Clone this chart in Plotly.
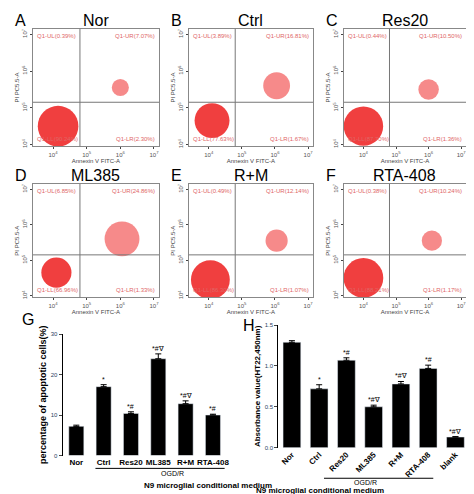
import plotly.graph_objects as go

W, H = 474, 494

# flow cytometry panels
flow_names = ["Nor", "Ctrl", "Res20", "ML385", "R+M", "RTA-408"]
flow_letters = ["A", "B", "C", "D", "E", "F"]
q_ul = [0.39, 3.89, 0.44, 6.85, 0.49, 0.38]
q_ur = [7.07, 16.81, 10.50, 24.86, 12.14, 10.24]
q_ll = [90.24, 77.63, 87.70, 66.96, 86.30, 88.21]
q_lr = [2.30, 1.67, 1.36, 1.33, 1.07, 1.17]
# cluster centres (log10 units)
ll_x = [4.15, 4.1, 4.0, 4.1, 4.05, 4.0]
ll_y = [4.5, 4.65, 4.5, 4.65, 4.45, 4.5]
ur_x = [6.0, 6.05, 6.0, 6.05, 6.05, 6.1]
ur_y = [5.55, 5.6, 5.5, 5.6, 5.55, 5.55]

# bar charts
g_cats = ["Nor", "Ctrl", "Res20", "ML385", "R+M", "RTA-408"]
g_vals = [7.2, 17.0, 10.4, 23.9, 12.8, 10.0]
g_err = [0.3, 0.5, 0.4, 1.2, 0.7, 0.2]
g_marks = ["", "*", "*#", "*#∇", "*#∇", "*#"]
h_cats = ["Nor", "Ctrl", "Res20", "ML385", "R+M", "RTA-408", "blank"]
h_vals = [1.29, 0.72, 1.07, 0.50, 0.78, 0.97, 0.13]
h_err = [0.02, 0.05, 0.03, 0.02, 0.03, 0.04, 0.005]
h_marks = ["", "*", "*#", "*#∇", "*#∇", "*#", "*#∇"]


def px_x(x):
    return x / W


def px_y(y):
    return 1 - y / H


def ax_id(n):
    s = "" if n == 1 else str(n)
    return "x" + s, "y" + s, "xaxis" + s, "yaxis" + s


def b(s):
    return "<b>%s</b>" % s


fig = go.Figure()
layout = {}
ann = []
shapes = []
red = "#ee2a2a"
qfont = dict(size=6, color="#e06666", family="Arial")
cols = [(25, 152), (182, 307), (338, 461)]
rows = [(18, 137), (175, 290)]
ticks_txt = ["10<sup>4</sup>", "10<sup>5</sup>", "10<sup>6</sup>", "10<sup>7</sup>"]

for i, name in enumerate(flow_names):
    c, r = cols[i % 3], rows[i // 3]
    xa, ya, xk, yk = ax_id(i + 1)
    layout[xk] = dict(domain=[px_x(c[0]), px_x(c[1])], anchor=ya, type="log",
                      range=[3.4, 7.15], tickvals=[1e4, 1e5, 1e6, 1e7], ticktext=ticks_txt,
                      tickfont=dict(size=6, color="#555"), showgrid=False, zeroline=False,
                      showline=True, linecolor="#888", mirror=True, ticks="outside", ticklen=2,
                      title=dict(text="Annexin V FITC-A", font=dict(size=6, color="#444"), standoff=0))
    layout[yk] = dict(domain=[px_y(r[1]), px_y(r[0])], anchor=xa, type="log",
                      range=[3.95, 7.15], tickvals=[1e4, 1e5, 1e6, 1e7], ticktext=ticks_txt,
                      tickfont=dict(size=6, color="#555"), tickangle=-90, showgrid=False,
                      zeroline=False, showline=True, linecolor="#888", mirror=True,
                      ticks="outside", ticklen=2,
                      title=dict(text="PI PC5.5-A", font=dict(size=6, color="#444"), standoff=0))
    # clusters: size driven by quadrant percentages
    fig.add_trace(go.Scatter(
        x=[10 ** ll_x[i], 10 ** ur_x[i]], y=[10 ** ll_y[i], 10 ** ur_y[i]],
        mode="markers", xaxis=xa, yaxis=ya, showlegend=False,
        marker=dict(color=red, opacity=[0.9, 0.55],
                    size=[q_ll[i] * 0.45, 10 + q_ur[i] * 1.0], line=dict(width=0))))
    # quadrant gates
    shapes.append(dict(type="line", xref=xa, yref="%s domain" % ya, x0=10 ** 4.8, x1=10 ** 4.8,
                       y0=0, y1=1, line=dict(color="#777", width=1)))
    shapes.append(dict(type="line", xref="%s domain" % xa, yref=ya, x0=0, x1=1,
                       y0=10 ** 5.15, y1=10 ** 5.15, line=dict(color="#777", width=1)))
    for txt, ax_, ay_, xan, yan in [
        ("Q1-UL(%.2f%%)" % q_ul[i], 0.02, 0.98, "left", "top"),
        ("Q1-UR(%.2f%%)" % q_ur[i], 0.98, 0.98, "right", "top"),
        ("Q1-LL(%.2f%%)" % q_ll[i], 0.02, 0.02, "left", "bottom"),
        ("Q1-LR(%.2f%%)" % q_lr[i], 0.98, 0.02, "right", "bottom")]:
        ann.append(dict(text=txt, xref="%s domain" % xa, yref="%s domain" % ya, x=ax_, y=ay_,
                        xanchor=xan, yanchor=yan, showarrow=False, font=qfont))
    ann.append(dict(text=flow_letters[i], xref="paper", yref="paper", x=px_x(c[0] - 20),
                    y=px_y(r[0] - 19), xanchor="left", yanchor="top", showarrow=False,
                    font=dict(size=16, color="black", family="Arial")))
    ann.append(dict(text=name, xref="paper", yref="paper", x=px_x((c[0] + c[1]) / 2),
                    y=px_y(r[0] - 19), xanchor="center", yanchor="top", showarrow=False,
                    font=dict(size=16, color="black", family="Arial")))

bold = dict(size=8, color="black", family="Arial")

# panel G
fig.add_trace(go.Bar(x=g_cats, y=g_vals, xaxis="x7", yaxis="y7", marker_color="black",
                     width=0.55, showlegend=False,
                     error_y=dict(type="data", array=g_err, symmetric=False, arrayminus=[0] * 6,
                                  color="black", thickness=1, width=3)))
layout["xaxis7"] = dict(domain=[px_x(55), px_x(220)], anchor="y7", showline=False,
                        tickvals=g_cats, ticktext=[b(s) for s in g_cats],
                        tickfont=bold, ticks="", showgrid=False)
layout["yaxis7"] = dict(domain=[px_y(450), px_y(327)], anchor="x7", range=[0, 30],
                        tickvals=[0, 10, 20, 30], tickfont=dict(size=6), showline=True,
                        linecolor="black", ticks="outside", ticklen=3, showgrid=False, zeroline=False,
                        title=dict(text=b("percentage of apoptotic cells(%)"),
                                   font=dict(size=9, color="black"), standoff=2))
for c_, v, e, m in zip(g_cats, g_vals, g_err, g_marks):
    if m:
        ann.append(dict(text=m, xref="x7", yref="y7", x=c_, y=v + e, yanchor="bottom",
                        showarrow=False, font=dict(size=7, color="black")))
shapes.append(dict(type="line", xref="paper", yref="paper", x0=px_x(88), x1=px_x(218),
                   y0=px_y(463), y1=px_y(463), line=dict(color="black", width=1)))
ann.append(dict(text="OGD/R", xref="paper", yref="paper", x=px_x(152), y=px_y(463),
                yanchor="top", showarrow=False, font=dict(size=7, color="black", family="Arial")))
ann.append(dict(text=b("N9 microglial conditional medium"), xref="paper", yref="paper",
                x=px_x(135), y=px_y(474), yanchor="top", showarrow=False, font=bold))
ann.append(dict(text="G", xref="paper", yref="paper", x=px_x(12), y=px_y(302), xanchor="left",
                yanchor="top", showarrow=False, font=dict(size=16, color="black", family="Arial")))

# panel H
fig.add_trace(go.Bar(x=h_cats, y=h_vals, xaxis="x8", yaxis="y8", marker_color="black",
                     width=0.65, showlegend=False,
                     error_y=dict(type="data", array=h_err, symmetric=False, arrayminus=[0] * 7,
                                  color="black", thickness=1, width=3)))
layout["xaxis8"] = dict(domain=[px_x(272), px_x(464)], anchor="y8", showline=False,
                        tickvals=h_cats, ticktext=[b(s) for s in h_cats],
                        tickfont=bold, tickangle=-45, ticks="", showgrid=False)
layout["yaxis8"] = dict(domain=[px_y(442), px_y(318)], anchor="x8", range=[0, 1.5],
                        tickvals=[0, 0.5, 1.0, 1.5], ticktext=["0.0", "0.5", "1.0", "1.5"],
                        tickfont=dict(size=6), showline=True, linecolor="black", ticks="outside",
                        ticklen=3, showgrid=False, zeroline=False,
                        title=dict(text=b("Absorbance value(HT22,450nm)"),
                                   font=dict(size=8, color="black"), standoff=2))
for c_, v, e, m in zip(h_cats, h_vals, h_err, h_marks):
    if m:
        ann.append(dict(text=m, xref="x8", yref="y8", x=c_, y=v + e, yanchor="bottom",
                        showarrow=False, font=dict(size=7, color="black")))
shapes.append(dict(type="line", xref="paper", yref="paper", x0=px_x(318), x1=px_x(428),
                   y0=px_y(473), y1=px_y(473), line=dict(color="black", width=1)))
ann.append(dict(text="OGD/R", xref="paper", yref="paper", x=px_x(373), y=px_y(472),
                yanchor="top", showarrow=False, font=dict(size=7, color="black", family="Arial")))
ann.append(dict(text=b("N9 microglial conditional medium"), xref="paper", yref="paper",
                x=px_x(380), y=px_y(492), yanchor="bottom", showarrow=False, font=bold))
ann.append(dict(text="H", xref="paper", yref="paper", x=px_x(234), y=px_y(308), xanchor="left",
                yanchor="top", showarrow=False, font=dict(size=16, color="black", family="Arial")))

fig.update_layout(width=W, height=H, margin=dict(l=0, r=0, t=0, b=0),
                  paper_bgcolor="white", plot_bgcolor="white", bargap=0.3,
                  annotations=ann, shapes=shapes, font=dict(family="Arial"), **layout)
fig.write_html("out.html")
